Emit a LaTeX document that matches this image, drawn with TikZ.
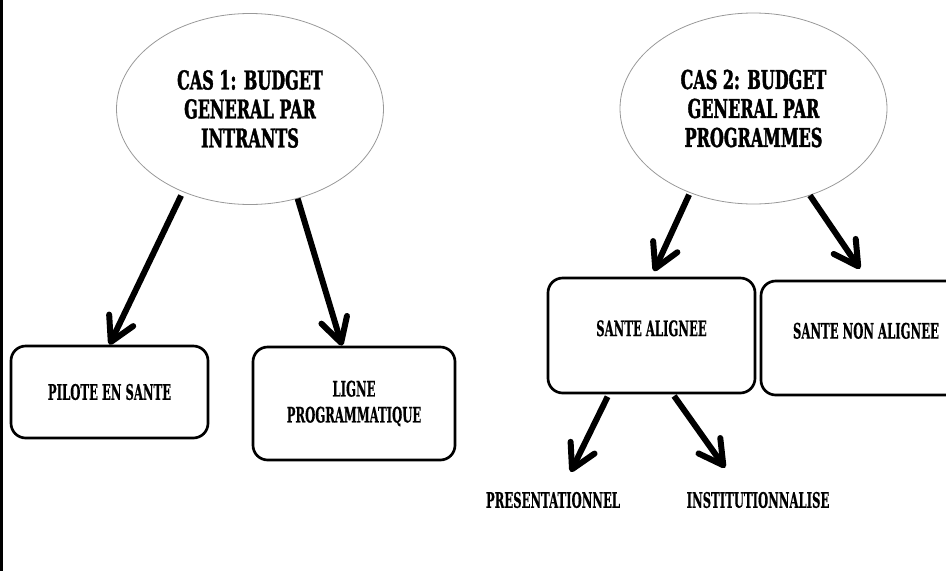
\documentclass[tikz,border=0pt]{standalone}
\usepackage{fontspec}
\newfontfamily\headfont[FakeStretch=0.615,FakeBold=1.5]{DejaVu Serif Bold}
\newfontfamily\boxfont[FakeStretch=0.545,FakeBold=0.4]{DejaVu Serif Bold}
\usetikzlibrary{shapes.geometric,arrows.meta}
\tikzset{
  headell/.style={ellipse, draw=black!40, line width=0.6pt, minimum width=200.25pt,
    minimum height=143.25pt, inner sep=0pt, align=center,
    font=\headfont\fontsize{19.5}{21.75}\selectfont},
  rbox/.style={draw=black, line width=2pt, rounded corners=11pt, inner sep=0pt,
    align=center, font=\boxfont\fontsize{16}{19.5}\selectfont},
  lbl/.style={inner sep=0pt, font=\boxfont\fontsize{16}{19.5}\selectfont},
  bigarrow/.style={line width=4.5pt, -{Straight Barb[length=18pt,width=20pt,round]}},
  frameline/.style={line width=2.25pt}
}
\begin{document}
\begin{tikzpicture}[x=0.75pt,y=-0.75pt]
\useasboundingbox (0,0) rectangle (946,571);
\clip (0,0) rectangle (946,571);
\draw[frameline] (1.5,0) -- (1.5,571);

\node[headell] (e1) at (250,109) {CAS 1: BUDGET\\GENERAL PAR\\INTRANTS};
\node[headell] (e2) at (753.5,108.5) {CAS 2: BUDGET\\GENERAL PAR\\PROGRAMMES};

\node[rbox, minimum width=147.75pt, minimum height=69pt] (pilote) at (109.5,392) {PILOTE EN SANTE};
\node[rbox, minimum width=151.5pt, minimum height=84.75pt] (ligne) at (354,403.5) {LIGNE\\PROGRAMMATIQUE};
\node[rbox, minimum width=155.25pt, minimum height=86.25pt, text depth=11pt] (alig) at (651.5,335.5) {SANTE ALIGNEE};
\node[rbox, minimum width=157.5pt, minimum height=85.5pt, text depth=11pt] (nal) at (866,338) {SANTE NON ALIGNEE};

\node[lbl] (pres) at (553,500) {PRESENTATIONNEL};
\node[lbl] (inst) at (758,500) {INSTITUTIONNALISE};

\draw[bigarrow, shorten <=3pt] (e1.231) -- (pilote.north);
\draw[bigarrow] (e1.298) -- ([xshift=-9pt]ligne.north);
\draw[bigarrow, shorten <=1.5pt, shorten >=4.5pt] (e2.233) -- (alig.north);
\draw[bigarrow, shorten >=9.9pt] (e2.303) -- ([xshift=1pt]nal.north);
\draw[bigarrow, shorten <=2pt, shorten >=16.5pt] (alig.234) -- ([xshift=6pt]pres.north);
\draw[bigarrow, shorten <=1.5pt, shorten >=22pt] (alig.290.5) -- ([xshift=-12pt]inst.north);
\end{tikzpicture}
\end{document}
